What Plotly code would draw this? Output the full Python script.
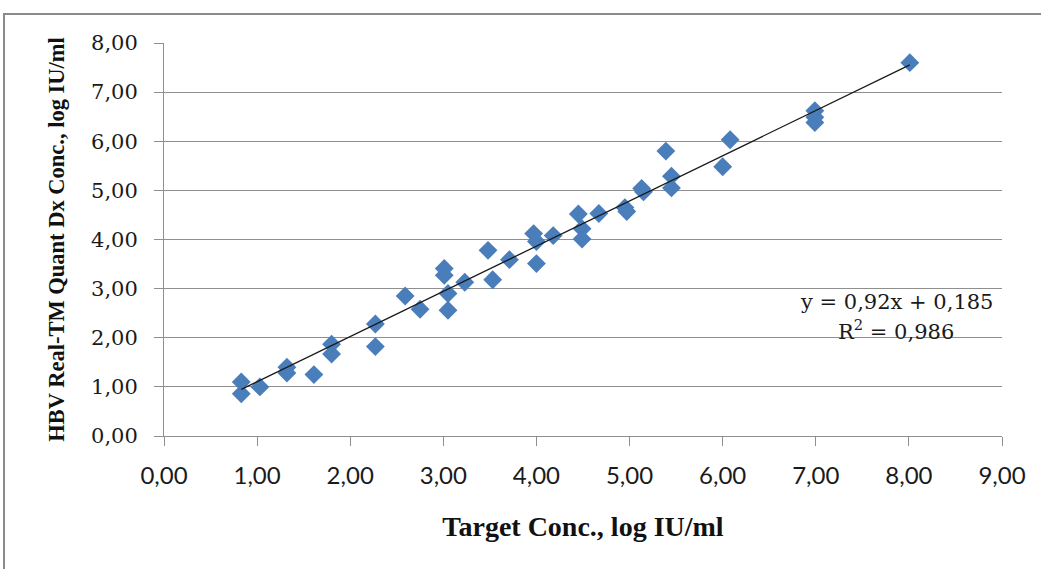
import plotly.graph_objects as go

# ---- data ----
target_conc = [0.83, 0.83, 1.03, 1.32, 1.32, 1.61, 1.80, 1.80, 2.27, 2.27,
               2.59, 2.75, 3.01, 3.01, 3.05, 3.05, 3.23, 3.48, 3.53, 3.71,
               3.97, 4.00, 4.00, 4.18, 4.45, 4.49, 4.49, 4.67, 4.95, 4.97,
               5.13, 5.15, 5.39, 5.45, 5.45, 6.00, 6.08, 6.99, 6.99, 6.99, 8.01]
measured_conc = [1.10, 0.86, 1.00, 1.40, 1.28, 1.25, 1.87, 1.67, 2.28, 1.82,
                 2.85, 2.58, 3.41, 3.27, 2.90, 2.56, 3.13, 3.78, 3.18, 3.59,
                 4.12, 3.96, 3.51, 4.08, 4.52, 4.22, 4.01, 4.53, 4.65, 4.57,
                 5.04, 4.97, 5.80, 5.29, 5.05, 5.48, 6.03, 6.62, 6.49, 6.38, 7.60]

slope = 0.92
intercept = 0.185
r_squared = 0.986

x_tick_vals = [0, 1, 2, 3, 4, 5, 6, 7, 8, 9]
x_tick_text = ["0,00", "1,00", "2,00", "3,00", "4,00", "5,00", "6,00", "7,00", "8,00", "9,00"]
y_tick_vals = [0, 1, 2, 3, 4, 5, 6, 7, 8]
y_tick_text = ["0,00", "1,00", "2,00", "3,00", "4,00", "5,00", "6,00", "7,00", "8,00"]

x_title = "Target Conc., log IU/ml"
y_title = "HBV Real-TM Quant Dx Conc., log IU/ml"
eq_text = "y = 0,92x + 0,185"
r2_text = "R<sup>2</sup> = 0,986"

# ---- figure ----
GRID = "#8f8f8f"
fig = go.Figure()

fig.add_trace(go.Scatter(
    x=target_conc, y=measured_conc, mode="markers",
    marker=dict(symbol="diamond", size=14.5, color="#4a7ebb", line=dict(width=0)),
    showlegend=False, hoverinfo="skip",
))

x_min, x_max = min(target_conc), max(target_conc)
fig.add_trace(go.Scatter(
    x=[x_min, x_max], y=[slope * x_min + intercept, slope * x_max + intercept],
    mode="lines", line=dict(color="#1a1a1a", width=1.3),
    showlegend=False, hoverinfo="skip",
))

fig.update_layout(
    width=1041, height=569,
    margin=dict(l=164, r=39, t=43, b=133),
    paper_bgcolor="white", plot_bgcolor="white",
    showlegend=False,
    xaxis=dict(
        range=[0, 9], tickvals=x_tick_vals, ticktext=x_tick_text,
        showgrid=False, zeroline=False,
        showline=True, linecolor=GRID, linewidth=1,
        ticks="outside", ticklen=9, tickcolor=GRID, tickwidth=1,
        ticklabelstandoff=9,
        tickfont=dict(family="Lato", size=24, color="#1a1a1a"),
        title=dict(text=x_title, standoff=28,
                   font=dict(family="Liberation Serif", size=28, color="#111111", weight="bold")),
    ),
    yaxis=dict(
        range=[0, 8], tickvals=y_tick_vals, ticktext=y_tick_text,
        showgrid=True, gridcolor=GRID, gridwidth=1,
        zeroline=False,
        showline=True, linecolor=GRID, linewidth=1,
        ticks="outside", ticklen=9, tickcolor=GRID, tickwidth=1,
        ticklabelstandoff=12,
        tickfont=dict(family="DejaVu Serif", size=21, color="#1a1a1a"),
        title=dict(text=y_title, standoff=20,
                   font=dict(family="Liberation Serif", size=22.5, color="#111111", weight="bold")),
    ),
    shapes=[dict(
        type="rect", xref="paper", yref="paper",
        x0=-0.1909, x1=1.06, y0=-0.37, y1=1.0738,
        line=dict(color="#8a8a8a", width=2), fillcolor="rgba(0,0,0,0)", layer="below",
    )],
    annotations=[
        dict(x=7.864, y=2.73, xref="x", yref="y", text=eq_text, showarrow=False,
             xanchor="center", yanchor="middle",
             font=dict(family="DejaVu Serif", size=21, color="#1a1a1a")),
        dict(x=7.864, y=2.15, xref="x", yref="y", text=r2_text, showarrow=False,
             xanchor="center", yanchor="middle",
             font=dict(family="DejaVu Serif", size=21, color="#1a1a1a")),
    ],
)

fig.write_html("out.html",
               config={"displayModeBar": False},
               post_script="document.body.style.margin='0';document.body.style.overflow='hidden';")
